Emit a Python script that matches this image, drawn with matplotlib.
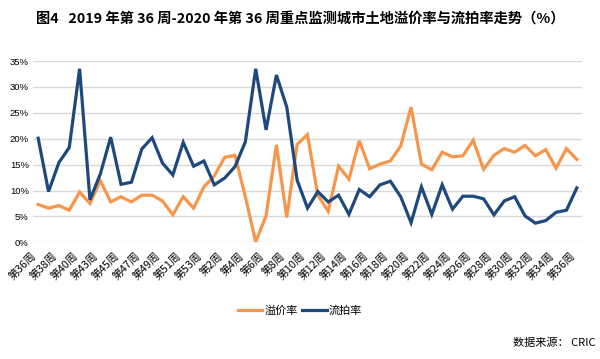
import matplotlib
matplotlib.use("Agg")
import matplotlib.pyplot as plt

plt.rcParams['font.family'] = ['Noto Sans CJK SC', 'DejaVu Sans']

# weeks: 2019 wk36-40, wk42-53, then 2020 wk1-36 (wk41 merged)
weeks = [36, 37, 38, 39, 40] + list(range(42, 54)) + list(range(1, 37))
week_labels = [f"第{w}周" for w in weeks]

premium = [7.3, 6.6, 7.1, 6.2, 9.7, 7.5, 11.9, 7.8, 8.8, 7.8,
           9.1, 9.1, 8.0, 5.3, 8.8, 6.6, 10.7, 12.8, 16.4, 16.8,
           8.8, 0.1, 5.1, 18.8, 4.8, 18.9, 20.8, 9.1, 6.0, 14.7,
           12.2, 19.6, 14.2, 15.1, 15.7, 18.6, 26.1, 15.1, 14.0, 17.4,
           16.5, 16.7, 19.7, 14.1, 16.8, 18.1, 17.4, 18.7, 16.7, 17.9,
           14.3, 18.1, 16.0]
unsold = [20.1, 9.8, 15.4, 18.3, 33.5, 8.2, 13.2, 20.3, 11.2, 11.6,
          18.0, 20.2, 15.3, 13.0, 19.3, 14.7, 15.7, 11.1, 12.4, 14.6,
          19.4, 33.5, 21.7, 32.3, 26.1, 12.0, 6.6, 9.8, 7.8, 9.1,
          5.4, 10.2, 8.8, 11.1, 11.8, 8.8, 3.8, 10.7, 5.4, 11.1,
          6.4, 8.9, 8.9, 8.4, 5.3, 8.0, 8.8, 5.1, 3.7, 4.2,
          5.8, 6.2, 10.5]
yticks = [0, 5, 10, 15, 20, 25, 30, 35]

fig = plt.figure(figsize=(6.0, 3.59), dpi=100)
ax = fig.add_axes([0.055, 0.325, 0.915, 0.505])

x = list(range(len(weeks)))
ax.plot(x, premium, color='#F7964A', lw=2.3, label='溢价率', clip_on=False,
        solid_joinstyle='miter')
ax.plot(x, unsold, color='#1F497D', lw=2.3, label='流拍率', clip_on=False,
        solid_joinstyle='miter')

ax.set_xlim(-0.5, len(weeks) - 0.5)
ax.set_ylim(0, 35)
ax.set_yticks(yticks)
ax.set_yticklabels([f"{v}%" for v in yticks], fontsize=6.8,
                   family=['Liberation Sans', 'DejaVu Sans'])
ax.yaxis.grid(True, color='#d9d9d9', lw=1)
ax.set_axisbelow(True)
ax.set_xticks(x[::2])
ax.set_xticklabels(week_labels[::2], rotation=45, ha='right', va='top',
                   fontsize=7.8)
ax.tick_params(axis='x', length=0, pad=6)
ax.tick_params(axis='y', length=0, pad=3)
for s in ax.spines.values():
    s.set_visible(False)

fig.text(0.5, 0.947, "图4   2019 年第 36 周-2020 年第 36 周重点监测城市土地溢价率与流拍率走势（%）",
         ha='center', va='center', fontsize=10.3, fontweight='bold')

leg = fig.legend(loc='center', bbox_to_anchor=(0.5, 0.135), ncol=2, frameon=False,
                 fontsize=8, handlelength=2.2, handletextpad=0.2, columnspacing=0.4)
fig.text(0.993, 0.044, "数据来源： CRIC", ha='right', va='center', fontsize=8)

fig.savefig("out.png", dpi=100)
plt.close(fig)
